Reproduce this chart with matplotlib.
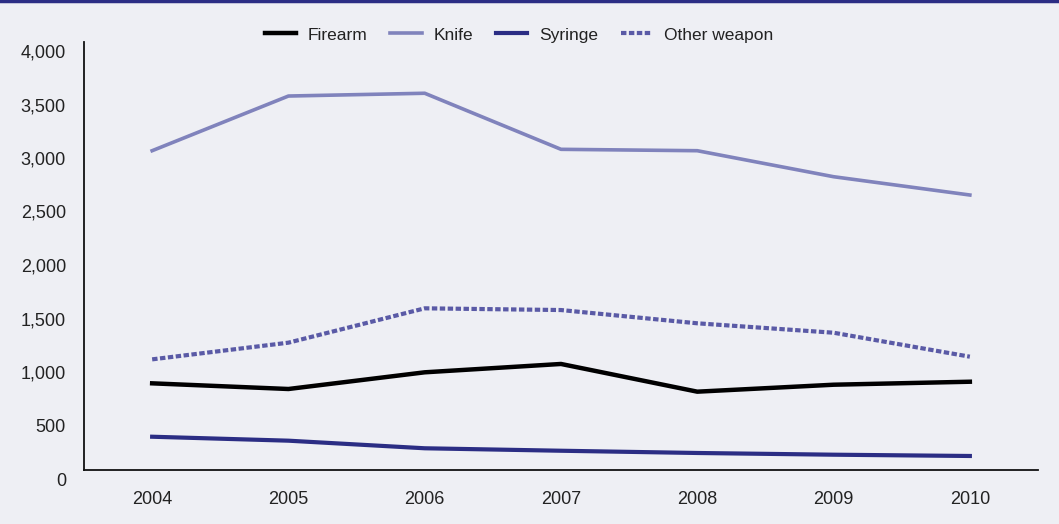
import matplotlib
matplotlib.use('Agg')
import matplotlib.pyplot as plt
import matplotlib.transforms as mtransforms
from matplotlib.ticker import FuncFormatter

# data
years = [2004, 2005, 2006, 2007, 2008, 2009, 2010]
firearm = [810, 757, 913, 991, 732, 797, 825]
knife = [2984, 3495, 3521, 2997, 2984, 2741, 2570]
syringe = [311, 274, 203, 180, 159, 143, 131]
other_weapon = [1034, 1190, 1511, 1495, 1371, 1283, 1059]
y_ticks = [0, 500, 1000, 1500, 2000, 2500, 3000, 3500, 4000]

BG = '#EEEFF4'
NAVY = '#2B2D84'
KNIFE = '#8083BC'
OTHER = '#5A5AA6'
TEXT = '#222222'

plt.rcParams['font.family'] = ['Liberation Sans', 'DejaVu Sans']
plt.rcParams['font.size'] = 13

fig = plt.figure(figsize=(10.59, 5.24), dpi=100, facecolor=BG)
ax = fig.add_axes([84 / 1059, 54 / 524, 954 / 1059, 428 / 524], facecolor=BG)

ax.plot(years, firearm, color='black', lw=3.2, label='Firearm')
ax.plot(years, knife, color=KNIFE, lw=2.6, label='Knife')
ax.plot(years, syringe, color=NAVY, lw=3.0, label='Syringe')
ax.plot(years, other_weapon, color=OTHER, lw=3.0, ls=(0, (1.3, 0.6)),
        label='Other weapon')

ax.set_xlim(2003.5, 2010.5)
ax.set_ylim(0, 4000)
ax.set_xticks(years)
ax.set_yticks(y_ticks)
ax.yaxis.set_major_formatter(FuncFormatter(lambda v, p: f'{int(v):,}'))
ax.tick_params(axis='both', length=0, colors=TEXT, labelsize=13)
ax.tick_params(axis='y', pad=13)
ax.tick_params(axis='x', pad=15)

# y labels sit a little below their gridline in the original
offset = mtransforms.ScaledTranslation(0, -9 / 100, fig.dpi_scale_trans)
for lbl in ax.get_yticklabels():
    lbl.set_transform(lbl.get_transform() + offset)

for side in ['top', 'right']:
    ax.spines[side].set_visible(False)
for side in ['left', 'bottom']:
    ax.spines[side].set_linewidth(1.3)
    ax.spines[side].set_color('#111111')

leg = fig.legend(loc='center', bbox_to_anchor=(519 / 1059, 1 - 35 / 524), ncol=4,
                 frameon=False, handlelength=1.8, columnspacing=1.3,
                 handletextpad=0.7, fontsize=12.5)
for t in leg.get_texts():
    t.set_color(TEXT)

# thin navy rule along the top edge
fig.add_artist(plt.Line2D([0, 1], [0.998, 0.998], color=NAVY, lw=2.5,
                          transform=fig.transFigure))

fig.savefig('out.png', dpi=100, facecolor=BG)
